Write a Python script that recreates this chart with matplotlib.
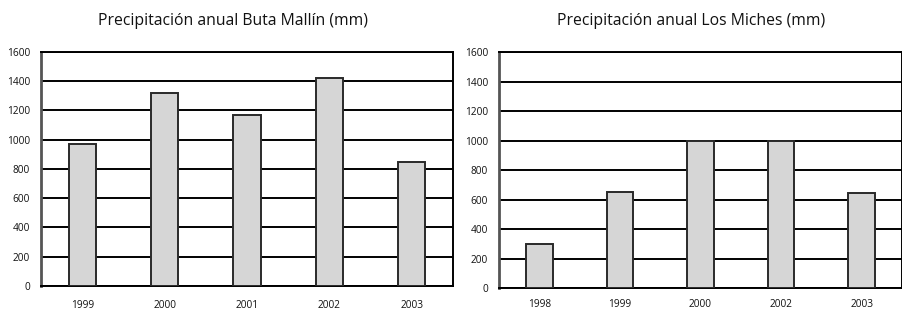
import matplotlib.pyplot as plt
import numpy as np

plt.rcParams['font.family'] = ['Open Sans', 'DejaVu Sans']

years_buta = ['1999', '2000', '2001', '2002', '2003']
rain_buta = [970, 1320, 1170, 1420, 845]

years_miches = ['1998', '1999', '2000', '2002', '2003']
rain_miches = [300, 650, 1000, 1000, 645]

titles = ['Precipitación anual Buta Mallín (mm)', 'Precipitación anual Los Miches (mm)']

fig = plt.figure(figsize=(9.03, 3.11), dpi=100)
ax1 = fig.add_axes([0.0454, 0.0804, 0.4563, 0.7524])
ax2 = fig.add_axes([0.5526, 0.074, 0.4463, 0.758])

for ax, yrs, vals, xpad in [(ax1, years_buta, rain_buta, 10),
                            (ax2, years_miches, rain_miches, 8)]:
    x = np.arange(len(yrs))
    ax.bar(x, vals, width=0.33, color='#d6d6d6', edgecolor='#2a2a2a', linewidth=1.4, zorder=3)
    ax.set_xlim(-0.5, len(yrs) - 0.5)
    ax.set_ylim(0, 1600)
    ax.set_yticks(np.arange(0, 1601, 200))
    ax.set_xticks(x)
    ax.set_xticklabels(yrs)
    ax.yaxis.grid(True, color='black', linewidth=1.4, zorder=0)
    ax.set_axisbelow(True)
    ax.tick_params(axis='both', length=0, labelsize=7.3, colors='#111111')
    ax.tick_params(axis='y', pad=8)
    ax.tick_params(axis='x', pad=xpad)
    for s in ['top', 'right', 'bottom']:
        ax.spines[s].set_linewidth(1.4)
        ax.spines[s].set_color('black')
    ax.spines['left'].set_linewidth(2)
    ax.spines['left'].set_color('#555555')

# titles sit a little left of the axes centres, as in the original
fig.text(233 / 903, 1 - 21 / 311, titles[0], ha='center', va='center', fontsize=11.3, color='#111111')
fig.text(691 / 903, 1 - 21 / 311, titles[1], ha='center', va='center', fontsize=11.3, color='#111111')

plt.savefig('out.png', dpi=100)
